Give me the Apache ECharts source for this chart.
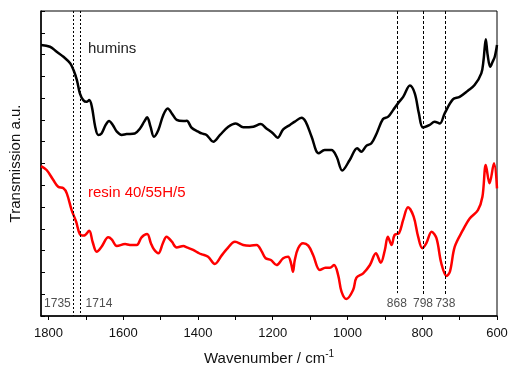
<!DOCTYPE html>
<html>
<head>
<meta charset="utf-8">
<script src="https://cdn.jsdelivr.net/npm/echarts@6/dist/echarts.min.js"></script>
<style>
  html, body { margin: 0; padding: 0; background: #fff; }
  #main { width: 508px; height: 365px; }
</style>
</head>
<body>
<div id="main"></div>
<script>
// wavenumbers (cm-1) and transmission (a.u.)
const humW = [1820,1796,1778,1760,1742,1733,1724,1716,1707,1698,1691,1684,1675,1667,1658,1647,1638,1628,1617,1604,1591,1569,1555,1544,1536,1527,1518,1506,1493,1481,1470,1457,1439,1430,1417,1399,1390,1377,1359,1341,1319,1299,1279,1252,1232,1217,1199,1187,1172,1154,1141,1123,1112,1096,1077,1061,1043,1029,1014,994,974,963,949,936,922,905,891,878,865,851,833,820,809,798,780,767,753,740,718,700,678,660,642,636,630,625,618,612,606,600]
const humT = [12.44,12.36,12.13,11.90,11.60,11.29,10.83,10.22,9.91,9.83,9.91,9.61,8.69,8.31,8.38,8.77,8.95,8.77,8.46,8.31,8.35,8.38,8.61,8.92,9.12,8.69,8.23,8.54,9.22,9.53,9.30,9.00,8.95,8.96,8.64,8.46,8.38,8.31,8.00,8.31,8.69,8.84,8.66,8.69,8.81,8.61,8.38,8.18,8.57,8.77,8.92,9.10,8.92,8.23,7.47,7.62,7.62,7.31,6.68,7.16,7.70,7.54,7.82,7.93,8.38,9.04,9.15,9.45,9.76,10.06,10.58,10.22,9.30,8.65,8.77,8.92,8.84,9.30,9.94,10.06,10.34,10.60,11.14,11.75,12.70,11.98,11.44,11.66,11.90,12.44]

const resW = [1820,1805,1787,1774,1760,1751,1738,1726,1716,1705,1691,1682,1671,1658,1640,1631,1617,1595,1582,1564,1551,1536,1526,1518,1506,1494,1484,1470,1457,1439,1430,1413,1397,1390,1373,1355,1337,1323,1301,1279,1261,1243,1230,1219,1205,1190,1172,1159,1151,1146,1141,1132,1119,1105,1092,1074,1059,1047,1036,1025,1016,1003,985,976,958,940,924,911,900,892,882,874,862,851,838,823,811,800,789,775,762,749,735,726,713,691,673,651,639,630,620,608,600]
const resT = [6.88,6.70,6.24,5.93,5.86,5.63,4.86,4.33,3.76,3.69,3.91,3.41,2.95,3.18,3.61,3.52,3.21,3.30,3.26,3.26,3.61,3.76,3.34,3.06,2.88,3.34,3.64,3.41,3.15,3.21,3.15,3.03,2.88,2.83,2.72,2.39,2.77,3.07,3.41,3.26,3.23,3.26,2.98,2.65,2.57,2.34,2.65,2.72,2.42,2.03,2.57,3.11,3.34,3.23,2.80,2.11,2.22,2.22,2.34,1.88,1.12,0.78,1.19,1.76,1.96,2.34,2.88,2.45,3.03,3.64,3.26,3.72,3.80,4.41,4.99,4.56,3.64,3.11,3.34,3.87,3.57,2.42,1.84,2.03,3.18,3.95,4.48,4.86,5.47,6.93,6.09,7.01,5.86]

// marked bands
const bands = [1735, 1714, 868, 798, 738]
const bandBottom = [0, 0, 1.05, 0.92, 0.92]
const bandLabelY = 0.55

const font = '"Liberation Sans", Arial, sans-serif'
const zip = (xs, ys) => xs.map((x, i) => [x, ys[i]])

const bandLabelPos = i => i === 0 ? 'left' : i === 1 ? 'right' : 'inside'

const option = {
  animation: false,
  grid: {
    left: 41, right: 11, top: 11, bottom: 49, outerBoundsMode: 'none',
    show: true, borderColor: '#000', borderWidth: 1
  },
  xAxis: {
    type: 'value', inverse: true, min: 600, max: 1820, interval: 100,
    name: '{a|Wavenumber / cm}{s|-1}', nameLocation: 'middle', nameGap: 33,
    nameTextStyle: { rich: {
      a: { fontFamily: font, fontSize: 15, color: '#111' },
      s: { fontFamily: font, fontSize: 10, color: '#111', verticalAlign: 'top', padding: [0, 0, 10, 0] }
    } },
    axisLine: { lineStyle: { color: '#000', width: 1.5 } },
    axisTick: { inside: false, length: 4, lineStyle: { color: '#000' } },
    axisLabel: {
      margin: 11, fontFamily: font, fontSize: 13, color: '#111', showMaxLabel: false,
      formatter: v => (v % 200 === 0 && v <= 1800) ? String(v) : ''
    },
    splitLine: { show: false }
  },
  yAxis: {
    type: 'value', min: 0, max: 14, interval: 1,
    name: 'Transmission a.u.', nameLocation: 'middle', nameGap: 18,
    nameTextStyle: { fontFamily: font, fontSize: 15, color: '#111' },
    axisLine: { lineStyle: { color: '#000', width: 1.5 } },
    axisTick: { inside: true, length: 4, lineStyle: { color: '#000' } },
    axisLabel: { show: false },
    splitLine: { show: false }
  },
  series: [
    {
      type: 'line', name: 'humins', data: zip(humW, humT), smooth: 0.35,
      showSymbol: false, lineStyle: { color: '#000', width: 2.5 },
      markLine: {
        silent: true, symbol: ['none', 'none'], label: { show: false },
        data: bands.map((w, i) => [
          { coord: [w, 14], lineStyle: { color: '#000', width: 1, type: i < 2 ? [2, 2] : [3, 2] } },
          { coord: [w, bandBottom[i]] }
        ])
      }
    },
    {
      type: 'line', name: 'resin 40/55H/5', data: zip(resW, resT), smooth: 0.35,
      showSymbol: false, lineStyle: { color: '#ff0000', width: 2.5 }
    },
    {
      type: 'scatter', symbolSize: 0, silent: true,
      data: bands.map((w, i) => ({
        value: [w, bandLabelY],
        label: { position: bandLabelPos(i), distance: i === 1 ? 5 : 2 }
      })),
      label: { show: true, formatter: p => String(p.value[0]), fontFamily: font, fontSize: 12, color: '#222' }
    }
  ],
  graphic: [
    { type: 'text', left: 88, top: 41, style: { text: 'humins', font: '15px ' + font, fill: '#222' } },
    { type: 'text', left: 88, top: 185, style: { text: 'resin 40/55H/5', font: '15px ' + font, fill: '#ff0000' } }
  ]
}

const chart = echarts.init(document.getElementById('main'))
chart.setOption(option)
</script>
</body>
</html>
